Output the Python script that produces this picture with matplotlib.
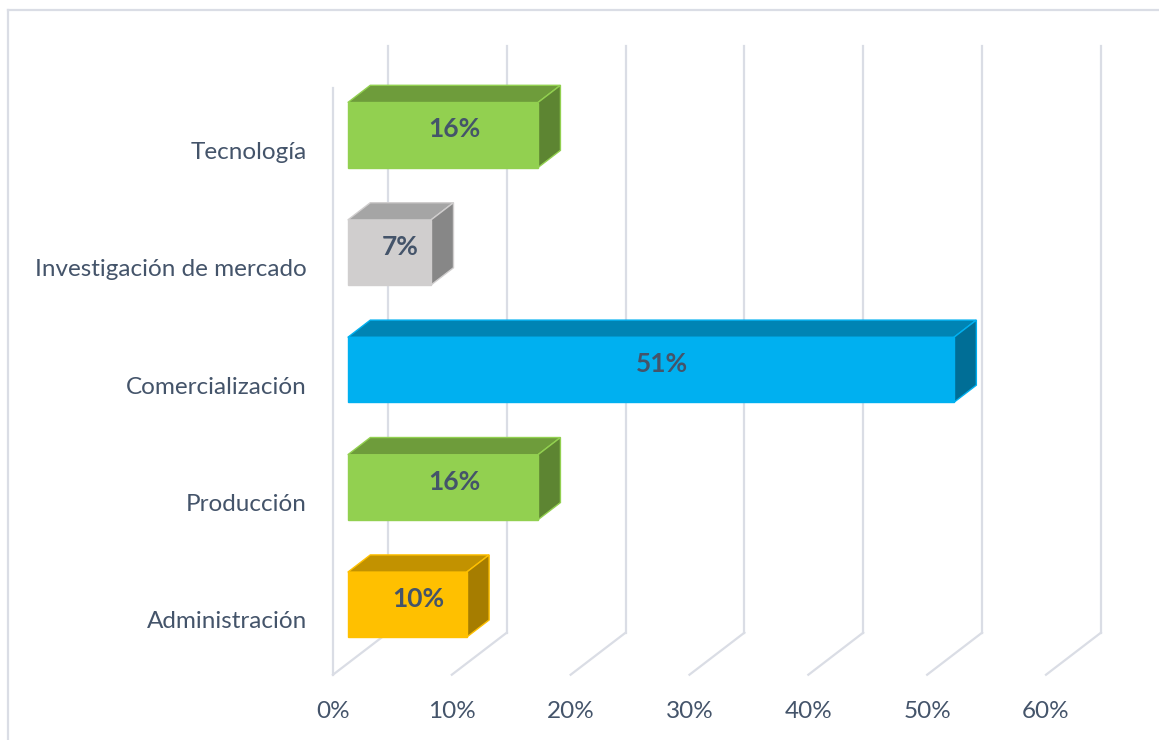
import matplotlib.pyplot as plt
from matplotlib.patches import Polygon

# Datos
categorias = ['Administración', 'Producción', 'Comercialización',
              'Investigación de mercado', 'Tecnología']
valores = [10, 16, 51, 7, 16]
etiquetas = ['10%', '16%', '51%', '7%', '16%']
marcas = [0, 10, 20, 30, 40, 50, 60]

# Colores de cada barra: frente, cara superior, lateral
frente = ['#FFC000', '#92D050', '#00B0F0', '#D0CECE', '#92D050']
arriba = ['#C29200', '#6E9C3B', '#0084B4', '#A5A5A5', '#6E9C3B']
lado = ['#A67D00', '#5D8532', '#006E96', '#878787', '#5D8532']

texto = '#44546A'
rejilla = '#DADDE5'

plt.rcParams['font.family'] = ['Lato', 'DejaVu Sans']

fig = plt.figure(figsize=(11.59, 7.4), dpi=100)
ax = fig.add_axes([0, 0, 1, 1])
ax.set_xlim(-28.02, 69.51)
ax.set_ylim(-1.056, 5.247)
ax.axis('off')

# Profundidad de la vista en perspectiva (unidades de datos)
px, py = 4.62, 0.358
piso, techo = -0.5, 4.5

def proy(x, y, d):
    return (x + d * px, y + d * py)

# Pared del fondo y piso
for m in marcas:
    ax.plot([m + px, m + px], [piso + py, techo + py], color=rejilla, lw=1.6, zorder=1)
    ax.plot([m, m + px], [piso, piso + py], color=rejilla, lw=1.6, zorder=1)
ax.plot([0, 0], [piso, techo], color=rejilla, lw=1.6, zorder=1)

# Barras 3D
alto = 0.277
d0, d1 = 0.27, 0.68
for i, v in enumerate(valores):
    y0, y1 = i - alto, i + alto
    cara = [proy(0, y0, d0), proy(v, y0, d0), proy(v, y1, d0), proy(0, y1, d0)]
    sup = [proy(0, y1, d0), proy(v, y1, d0), proy(v, y1, d1), proy(0, y1, d1)]
    lat = [proy(v, y0, d0), proy(v, y0, d1), proy(v, y1, d1), proy(v, y1, d0)]
    for pts, col in [(sup, arriba[i]), (lat, lado[i]), (cara, frente[i])]:
        ax.add_patch(Polygon(pts, closed=True, facecolor=col,
                             edgecolor=frente[i], lw=1, zorder=3))
    cx, cy = proy(v / 2, i, (d0 + d1) / 2)
    ax.text(cx, cy - 0.025, etiquetas[i], ha='center', va='center', fontsize=19,
            fontweight='bold', color=texto, zorder=4)

# Etiquetas de categorías
for i, c in enumerate(categorias):
    ax.text(-2.18, i - 0.05, c, ha='right', va='center', fontsize=17.5, color=texto)

# Etiquetas del eje de valores
for m in marcas:
    ax.text(m, -0.81, f'{m}%', ha='center', va='center', fontsize=17.5, color=texto)

# Borde del área del gráfico
ax.plot([-28.02 + 8 / 11.883] * 2, [-1.1, 5.247 - 10 / 117.4],
        color=rejilla, lw=1.6, clip_on=False)
ax.plot([-28.02 + 8 / 11.883, 70], [5.247 - 10 / 117.4] * 2,
        color=rejilla, lw=1.6, clip_on=False)

plt.savefig('out.png', dpi=100)
